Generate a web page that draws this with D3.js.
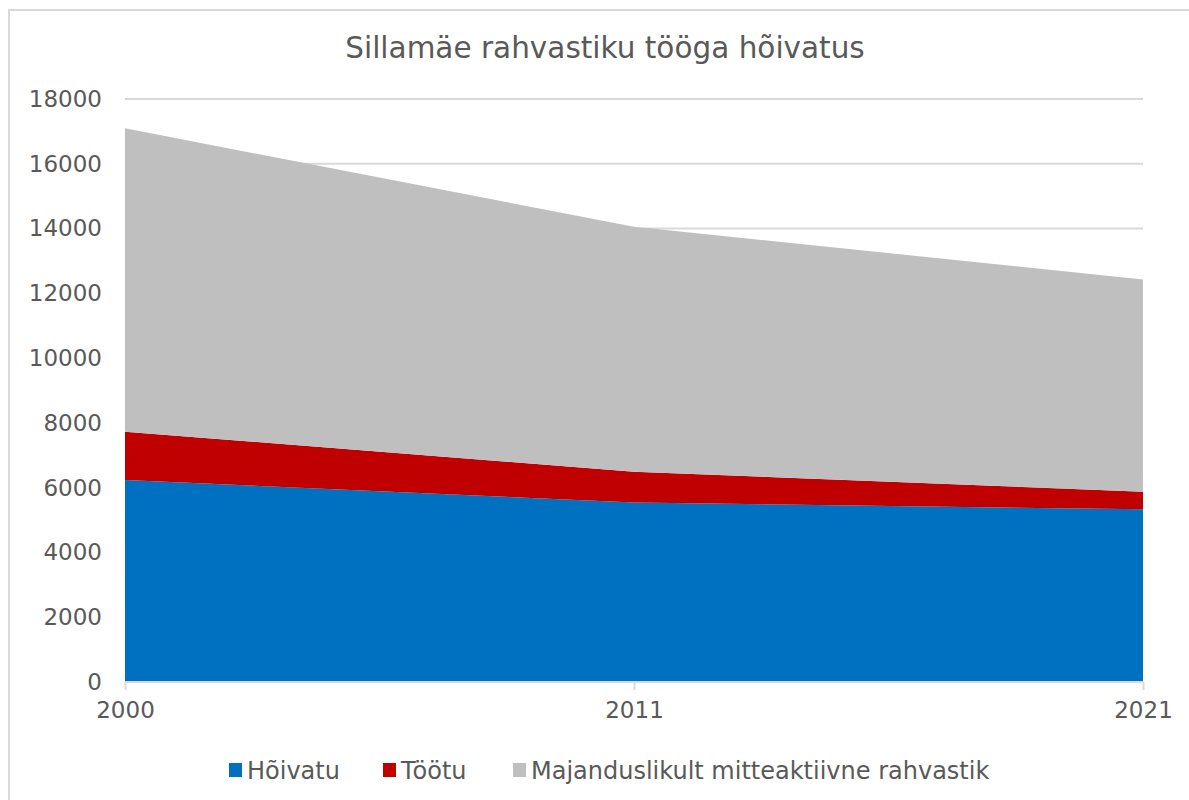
<!DOCTYPE html>
<html>
<head>
<meta charset="utf-8">
<script src="https://cdn.jsdelivr.net/npm/d3@7"></script>
<style>
  body { margin: 0; background: #fff; }
  text { font-family: "DejaVu Sans", Verdana, sans-serif; fill: #595959; }
</style>
</head>
<body>
<svg id="chart" width="1189" height="800"></svg>
<script>
// data
var years = ['2000', '2011', '2021'];
var hoivatu = [6240, 5540, 5330];
var tootu = [1490, 955, 545];
var mitteaktiivne = [9365, 7560, 6555];
var seriesNames = ['Hõivatu', 'Töötu', 'Majanduslikult mitteaktiivne rahvastik'];
var seriesColors = ['#0070c0', '#c00000', '#bfbfbf'];
var yTicks = [0, 2000, 4000, 6000, 8000, 10000, 12000, 14000, 16000, 18000];

var svg = d3.select('#chart');
var plotLeft = 125, plotRight = 1143, plotTop = 99, plotBottom = 682;

var rows = years.map(function(yr, i) {
    return {year: yr, 'Hõivatu': hoivatu[i], 'Töötu': tootu[i],
        'Majanduslikult mitteaktiivne rahvastik': mitteaktiivne[i]};
});

var x = d3.scalePoint().domain(years).range([plotLeft, plotRight]);
var y = d3.scaleLinear().domain([0, 18000]).range([plotBottom, plotTop]);

// outer chart border (only top/left visible)
svg.append('path')
    .attr('d', 'M9,800 L9,10 L1189,10')
    .attr('fill', 'none')
    .attr('stroke', '#d9d9d9')
    .attr('stroke-width', 2);

// title
svg.append('text')
    .attr('x', 605)
    .attr('y', 58)
    .attr('text-anchor', 'middle')
    .style('font-size', '29.5px')
    .text('Sillamäe rahvastiku tööga hõivatus');

// gridlines
svg.append('g')
    .selectAll('line')
    .data(yTicks.filter(function(d) { return d > 0; }))
    .enter()
    .append('line')
    .attr('x1', plotLeft).attr('x2', plotRight)
    .attr('y1', function(d) { return y(d); })
    .attr('y2', function(d) { return y(d); })
    .attr('stroke', '#d9d9d9')
    .attr('stroke-width', 2);

// stacked areas
var stack = d3.stack().keys(seriesNames);
var layers = stack(rows);
var area = d3.area()
    .x(function(d) { return x(d.data.year); })
    .y0(function(d) { return y(d[0]); })
    .y1(function(d) { return y(d[1]); });

svg.append('g')
    .selectAll('path')
    .data(layers)
    .enter()
    .append('path')
    .attr('d', area)
    .attr('fill', function(d, i) { return seriesColors[i]; });

// y axis
var yAxis = svg.append('g')
    .attr('transform', 'translate(' + plotLeft + ',0)')
    .call(d3.axisLeft(y).tickValues(yTicks).tickSize(0).tickPadding(23).tickFormat(d3.format('d')));
yAxis.select('.domain').remove();
yAxis.selectAll('text').style('font-size', '23px').attr('fill', null);

// x axis
var xAxis = svg.append('g')
    .attr('transform', 'translate(0,' + plotBottom + ')')
    .call(d3.axisBottom(x).tickSize(8).tickPadding(12));
xAxis.select('.domain')
    .attr('stroke', '#d9d9d9')
    .attr('stroke-width', 2)
    .attr('d', 'M' + plotLeft + ',0H' + plotRight);
xAxis.selectAll('.tick line').attr('stroke', '#d9d9d9').attr('stroke-width', 2);
xAxis.selectAll('text').style('font-size', '23px').attr('fill', null);

// legend
var legendX = [229, 383, 513];
var legend = svg.append('g')
    .selectAll('g')
    .data(seriesNames)
    .enter()
    .append('g')
    .attr('transform', function(d, i) { return 'translate(' + legendX[i] + ',770)'; });
legend.append('rect')
    .attr('x', 0).attr('y', -7)
    .attr('width', 13).attr('height', 14)
    .attr('fill', function(d, i) { return seriesColors[i]; });
legend.append('text')
    .attr('x', 18)
    .attr('dy', '0.36em')
    .style('font-size', '24px')
    .text(function(d) { return d; });
</script>
</body>
</html>
